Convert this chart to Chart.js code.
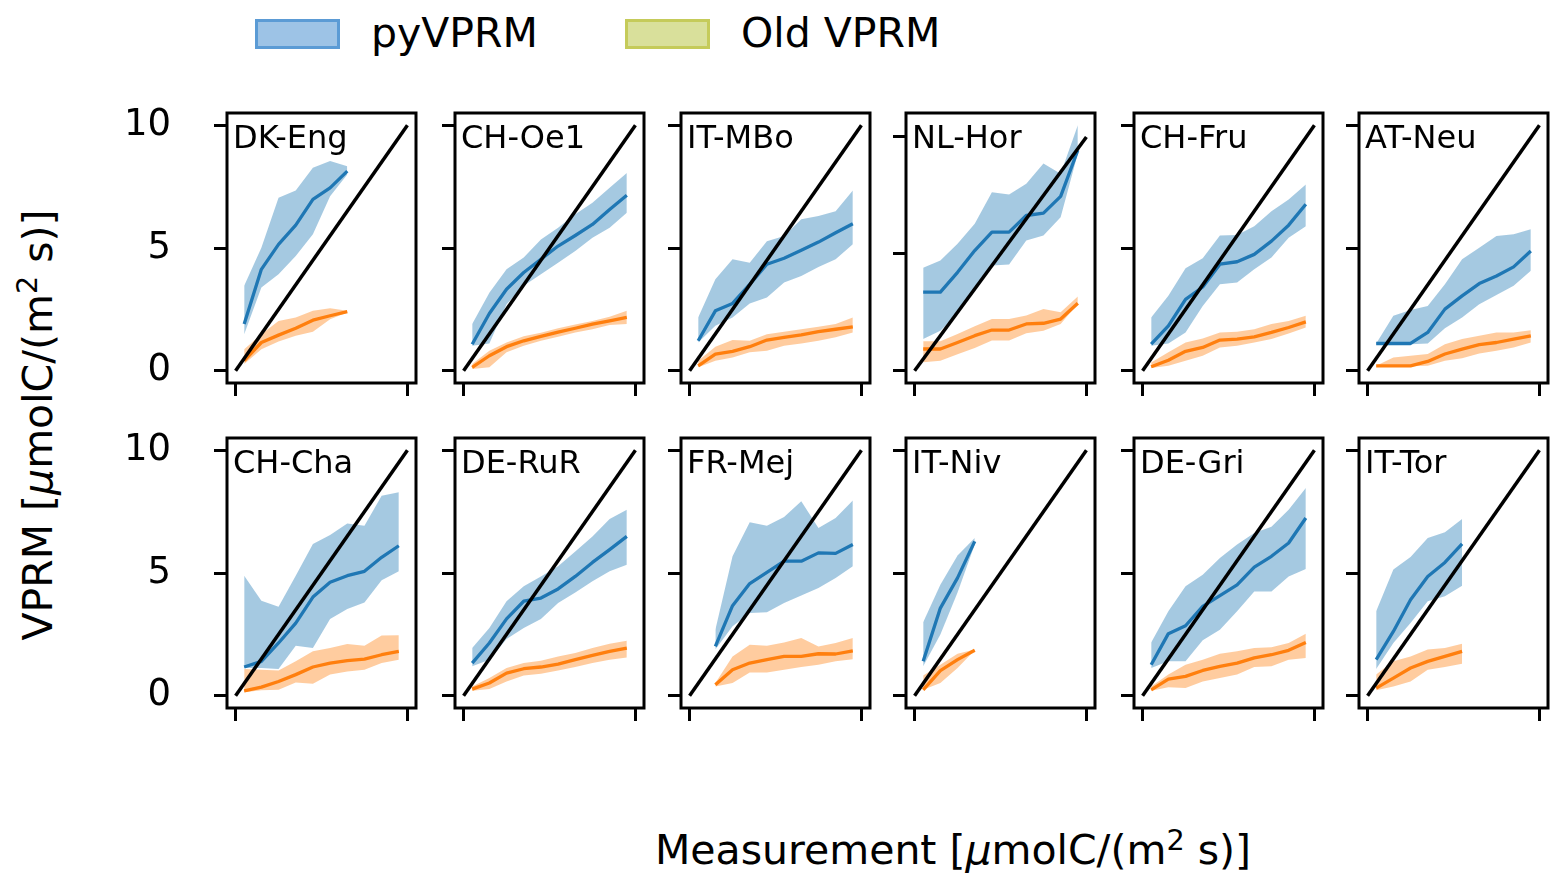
<!DOCTYPE html>
<html>
<head>
<meta charset="utf-8">
<script src="https://cdn.jsdelivr.net/npm/chart.js@4.4.1/dist/chart.umd.min.js"></script>
<style>
  html, body { margin: 0; padding: 0; background: #fff; }
  body { width: 1566px; height: 888px; position: relative; overflow: hidden;
         font-family: 'DejaVu Sans', sans-serif; color: #000; }
  .panel { position: absolute; }
  .lg-patch { position: absolute; top: 19px; width: 85px; height: 30px;
              box-sizing: border-box; border: 3px solid; }
  .lg-text { position: absolute; top: 13px; font-size: 41px; line-height: 1; white-space: nowrap; }
  .label { position: absolute; font-size: 41px; line-height: 1; white-space: nowrap; }
  .label sup { font-size: 0.7em; vertical-align: 0.5em; line-height: 0; }
</style>
</head>
<body>

<div class="lg-patch" style="left:255px; background:#9dc3e6; border-color:#5b9bd5"></div>
<div class="lg-text" style="left:371px">pyVPRM</div>
<div class="lg-patch" style="left:625px; background:#d9e09b; border-color:#c5cb5a"></div>
<div class="lg-text" style="left:741px">Old VPRM</div>

<div class="label" id="ylabel" style="left:38px; top:425px; transform: translate(-50%, -50%) rotate(-90deg);">VPRM [<i>μ</i>molC/(m<sup>2</sup> s)]</div>
<div class="label" id="xlabel" style="left:953px; top:830px; transform: translateX(-50%);">Measurement [<i>μ</i>molC/(m<sup>2</sup> s)]</div>

<script>
// sites, in panel order (row by row)
const sites = ['DK-Eng', 'CH-Oe1', 'IT-MBo', 'NL-Hor', 'CH-Fru', 'AT-Neu',
               'CH-Cha', 'DE-RuR', 'FR-Mej', 'IT-Niv', 'DE-Gri', 'IT-Tor'];

// measurement bin centres and index of the first populated bin per site
const binCentres = [0.5, 1.5, 2.5, 3.5, 4.5, 5.5, 6.5, 7.5, 8.5, 9.5];
const firstBin = [0, 0, 0, 0, 0, 0, 0, 0, 1, 0, 0, 0];

// pyVPRM: median and band
const pyMean = [
    [1.9, 4.13, 5.15, 5.93, 6.98, 7.45, 8.13],
    [1.08, 2.33, 3.32, 4.0, 4.54, 5.08, 5.51, 5.96, 6.57, 7.15],
    [1.22, 2.44, 2.74, 3.52, 4.34, 4.58, 4.91, 5.24, 5.62, 5.99],
    [3.36, 3.36, 4.21, 5.14, 5.93, 5.93, 6.64, 6.74, 7.46, 9.43],
    [1.08, 1.83, 2.91, 3.41, 4.34, 4.44, 4.74, 5.28, 5.93, 6.78],
    [1.11, 1.11, 1.11, 1.56, 2.51, 3.05, 3.55, 3.86, 4.23, 4.88],
    [1.17, 1.4, 2.15, 2.96, 4.02, 4.62, 4.89, 5.07, 5.64, 6.11],
    [1.33, 2.15, 3.13, 3.85, 3.98, 4.35, 4.86, 5.43, 5.95, 6.49],
    [2.01, 3.67, 4.57, 5.03, 5.48, 5.48, 5.82, 5.8, 6.16],
    [1.4, 3.57, 4.8, 6.29],
    [1.26, 2.53, 2.85, 3.64, 4.08, 4.52, 5.24, 5.68, 6.22, 7.24],
    [1.47, 2.62, 3.91, 4.86, 5.43, 6.19]
];
const pyHigh = [
    [3.46, 5.01, 7.05, 7.34, 8.27, 8.54, 8.33],
    [1.9, 3.18, 4.13, 4.61, 5.35, 5.83, 6.37, 6.84, 7.45, 8.06],
    [2.17, 3.73, 4.54, 4.4, 5.28, 5.49, 6.17, 6.3, 6.5, 7.34],
    [4.4, 4.71, 5.43, 6.29, 7.64, 7.54, 8.0, 8.86, 8.43, 10.5],
    [2.17, 3.05, 4.17, 4.58, 5.51, 5.53, 5.89, 6.5, 6.98, 7.59],
    [1.11, 2.24, 2.47, 2.64, 3.52, 4.54, 5.01, 5.49, 5.56, 5.76],
    [4.89, 3.87, 3.63, 4.89, 6.18, 6.55, 7.02, 6.93, 8.15, 8.29],
    [1.94, 2.76, 3.85, 4.46, 4.86, 5.27, 5.88, 6.49, 7.2, 7.58],
    [2.69, 5.68, 7.07, 6.93, 7.28, 7.92, 6.83, 7.24, 7.95],
    [2.99, 4.52, 5.71, 6.43],
    [2.17, 3.44, 4.46, 4.93, 5.61, 6.16, 6.63, 6.88, 7.58, 8.46],
    [3.44, 5.14, 5.65, 6.43, 6.66, 7.2]
];
const pyLow = [
    [1.49, 3.39, 3.93, 4.67, 5.56, 7.11, 7.99],
    [1.02, 1.11, 2.71, 3.46, 3.93, 4.4, 4.88, 5.42, 5.83, 6.44],
    [1.15, 1.83, 2.17, 2.74, 2.98, 3.59, 3.86, 4.23, 4.54, 5.15],
    [1.36, 1.71, 2.43, 3.43, 4.5, 4.54, 5.57, 5.79, 6.57, 9.29],
    [1.02, 1.11, 1.56, 2.64, 3.52, 3.59, 4.13, 4.61, 5.42, 5.89],
    [1.08, 1.08, 1.08, 1.11, 1.73, 2.17, 2.71, 3.09, 3.46, 4.07],
    [1.13, 1.13, 1.09, 2.04, 1.94, 3.13, 3.53, 3.8, 4.7, 5.07],
    [1.2, 1.47, 2.31, 2.76, 3.13, 3.78, 4.21, 4.66, 5.07, 5.34],
    [1.88, 2.83, 3.37, 3.4, 3.78, 4.08, 4.39, 4.8, 5.27],
    [1.2, 2.49, 4.21, 6.16],
    [1.13, 1.4, 1.4, 2.26, 2.69, 3.44, 4.25, 4.25, 4.86, 5.16],
    [1.09, 2.15, 2.96, 3.85, 4.05, 4.48]
];

// old VPRM: median and band
const oldMean = [
    [0.41, 1.15, 1.45, 1.73, 2.06, 2.24, 2.41],
    [0.14, 0.61, 0.98, 1.22, 1.4, 1.57, 1.73, 1.9, 2.03, 2.17],
    [0.2, 0.68, 0.79, 0.98, 1.25, 1.36, 1.46, 1.59, 1.69, 1.79],
    [0.93, 0.93, 1.21, 1.5, 1.74, 1.74, 2.0, 2.03, 2.21, 2.89],
    [0.16, 0.43, 0.79, 0.95, 1.25, 1.29, 1.38, 1.56, 1.76, 1.99],
    [0.2, 0.2, 0.2, 0.38, 0.68, 0.88, 1.06, 1.15, 1.29, 1.42],
    [0.2, 0.35, 0.58, 0.86, 1.17, 1.33, 1.43, 1.49, 1.67, 1.81],
    [0.27, 0.52, 0.92, 1.1, 1.17, 1.29, 1.47, 1.64, 1.81, 1.94],
    [0.45, 1.06, 1.33, 1.47, 1.6, 1.6, 1.71, 1.7, 1.83],
    [0.24, 1.02, 1.47, 1.85],
    [0.24, 0.68, 0.79, 1.03, 1.2, 1.33, 1.54, 1.67, 1.85, 2.17],
    [0.31, 0.72, 1.13, 1.4, 1.6, 1.81]
];
const oldHigh = [
    [0.88, 1.49, 2.03, 2.17, 2.44, 2.55, 2.44],
    [0.27, 0.81, 1.15, 1.4, 1.55, 1.73, 1.88, 2.03, 2.2, 2.44],
    [0.41, 0.98, 1.25, 1.22, 1.49, 1.59, 1.69, 1.79, 1.9, 2.17],
    [1.26, 1.26, 1.57, 1.9, 2.21, 2.21, 2.36, 2.64, 2.5, 3.17],
    [0.34, 0.75, 1.15, 1.31, 1.56, 1.59, 1.69, 1.9, 2.03, 2.24],
    [0.2, 0.54, 0.61, 0.68, 1.08, 1.29, 1.42, 1.56, 1.56, 1.65],
    [1.09, 1.06, 1.03, 1.4, 1.81, 1.94, 2.11, 2.04, 2.45, 2.46],
    [0.38, 0.72, 1.13, 1.33, 1.43, 1.6, 1.74, 1.94, 2.12, 2.24],
    [0.52, 1.6, 2.08, 2.04, 2.17, 2.35, 2.01, 2.15, 2.35],
    [0.82, 1.26, 1.71, 1.88],
    [0.38, 0.86, 1.26, 1.47, 1.71, 1.81, 1.94, 1.98, 2.15, 2.53],
    [0.86, 1.4, 1.6, 1.88, 1.94, 2.12]
];
const oldLow = [
    [0.27, 0.88, 1.19, 1.42, 1.59, 2.1, 2.37],
    [0.07, 0.14, 0.75, 1.02, 1.22, 1.38, 1.56, 1.69, 1.86, 1.9],
    [0.14, 0.41, 0.54, 0.75, 0.81, 1.02, 1.11, 1.22, 1.36, 1.56],
    [0.36, 0.43, 0.71, 0.97, 1.29, 1.29, 1.6, 1.71, 2.0, 2.86],
    [0.11, 0.2, 0.41, 0.61, 0.95, 1.02, 1.15, 1.29, 1.52, 1.76],
    [0.18, 0.18, 0.18, 0.2, 0.41, 0.51, 0.7, 0.81, 0.95, 1.15],
    [0.14, 0.22, 0.24, 0.54, 0.49, 0.86, 0.99, 1.06, 1.33, 1.47],
    [0.2, 0.27, 0.58, 0.82, 0.9, 1.03, 1.17, 1.33, 1.47, 1.56],
    [0.38, 0.52, 0.95, 0.95, 1.06, 1.17, 1.26, 1.4, 1.49],
    [0.24, 0.52, 1.13, 1.85],
    [0.2, 0.35, 0.31, 0.58, 0.72, 0.86, 1.17, 1.2, 1.47, 1.54],
    [0.22, 0.38, 0.58, 1.06, 1.17, 1.3]
];

// 1:1 line and ticks
const oneToOne = [0, 10];
const xTicks = [0, 10];
const yTicks = [0, 5, 10];
const yMin = [-0.5, -0.5, -0.5, -0.525, -0.5, -0.5, -0.5, -0.5, -0.5, -0.5, -0.5, -0.5];
const yMax = [10.5, 10.5, 10.5, 11.025, 10.5, 10.5, 10.5, 10.5, 10.5, 10.5, 10.5, 10.5];

// panel geometry (axes box, px)
const boxLeft = [227, 455, 681, 906, 1134, 1359];
const boxTop = [113, 438];
const boxW = 189, boxH = 270;
// room around the box inside each canvas (big enough for the tick label padding)
const padL = 115, padT = 75, padR = 20, padB = 75;
const tickLen = 13;

const FONT = 'DejaVu Sans';
const bandBlue = 'rgba(31, 119, 180, 0.4)';
const bandOrange = 'rgba(255, 127, 14, 0.4)';

// axes frame + site name inside the box
const framePlugin = {
    id: 'frame',
    afterDatasetsDraw(chart, args, opts) {
        const ctx = chart.ctx, a = chart.chartArea;
        ctx.save();
        ctx.strokeStyle = '#000';
        ctx.lineWidth = 3;
        ctx.strokeRect(a.left, a.top, a.right - a.left, a.bottom - a.top);
        ctx.fillStyle = '#000';
        ctx.font = '32px "' + FONT + '"';
        ctx.textBaseline = 'alphabetic';
        ctx.textAlign = 'left';
        ctx.fillText(opts.text, a.left + 6, a.top + 35);
        ctx.restore();
    }
};

const gridOpts = {
    drawOnChartArea: false,
    drawTicks: true,
    tickLength: tickLen,
    color: '#000',
    lineWidth: 3
};

sites.forEach(function (name, k) {
    var r = Math.floor(k / 6), c = k % 6;
    var wrap = document.createElement('div');
    wrap.className = 'panel';
    wrap.style.left = (boxLeft[c] - padL) + 'px';
    wrap.style.top = (boxTop[r] - padT) + 'px';
    wrap.style.width = (boxW + padL + padR) + 'px';
    wrap.style.height = (boxH + padT + padB) + 'px';
    var cv = document.createElement('canvas');
    wrap.appendChild(cv);
    document.body.appendChild(wrap);

    var xs = binCentres.slice(firstBin[k], firstBin[k] + pyMean[k].length);
    var pts = function (vals) {
        return vals.map(function (y, i) { return {x: xs[i], y: y}; });
    };

    new Chart(cv, {
        type: 'line',
        data: {
            datasets: [
                {data: pts(pyHigh[k]), fill: '+1', backgroundColor: bandBlue, borderColor: 'transparent', order: 6},
                {data: pts(pyLow[k]), fill: false, borderColor: 'transparent', order: 5},
                {data: pts(oldHigh[k]), fill: '+1', backgroundColor: bandOrange, borderColor: 'transparent', order: 4},
                {data: pts(oldLow[k]), fill: false, borderColor: 'transparent', order: 3},
                {data: pts(pyMean[k]), fill: false, borderColor: '#1f77b4', borderWidth: 3.3, order: 2},
                {data: pts(oldMean[k]), fill: false, borderColor: '#ff7f0e', borderWidth: 3.3, order: 1},
                {data: oneToOne.map(function (v) { return {x: v, y: v}; }), fill: false,
                 borderColor: '#000', borderWidth: 3.5, order: 0}
            ]
        },
        options: {
            responsive: true,
            maintainAspectRatio: false,
            animation: false,
            events: [],
            layout: {
                padding: {left: 0, top: padT, right: padR, bottom: padB - tickLen}
            },
            elements: {
                point: {radius: 0},
                line: {tension: 0, borderJoinStyle: 'round', borderCapStyle: 'butt'}
            },
            plugins: {
                legend: {display: false},
                tooltip: {enabled: false},
                frame: {text: name}
            },
            scales: {
                x: {
                    type: 'linear',
                    min: -0.5,
                    max: 10.5,
                    afterBuildTicks: function (s) { s.ticks = xTicks.map(function (v) { return {value: v}; }); },
                    afterFit: function (s) { s.height = tickLen; },
                    ticks: {display: false},
                    grid: gridOpts,
                    border: {display: false}
                },
                y: {
                    type: 'linear',
                    min: yMin[k],
                    max: yMax[k],
                    afterBuildTicks: function (s) { s.ticks = yTicks.map(function (v) { return {value: v}; }); },
                    afterFit: function (s) { s.width = padL; },
                    ticks: {
                        display: c === 0,
                        padding: 43,
                        color: '#000',
                        font: {family: FONT, size: 37}
                    },
                    grid: gridOpts,
                    border: {display: false}
                }
            }
        },
        plugins: [framePlugin]
    });
});
</script>
</body>
</html>
